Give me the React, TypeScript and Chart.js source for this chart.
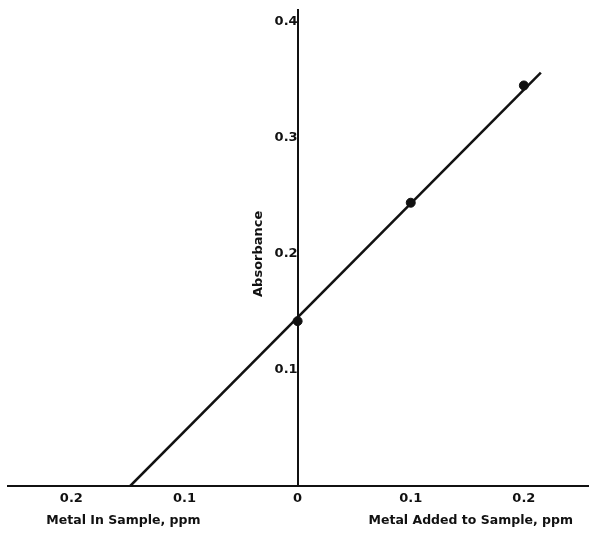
import React, { useEffect, useRef } from "react";
import { Chart, registerables } from "chart.js";

Chart.register(...registerables);

// Standard addition data (ppm metal added vs absorbance)
const addedConc = [0, 0.1, 0.2];
const absorbance = [0.142, 0.244, 0.345];
// Extrapolated fitted line end points
const fitX = [-0.148, 0.215];
const fitY = [0, 0.356];
const yTicks = [0.1, 0.2, 0.3, 0.4];
const xTicks = [-0.2, -0.1, 0, 0.1, 0.2];
const leftTitle = "Metal In Sample, ppm";
const rightTitle = "Metal Added to Sample, ppm";
const yTitle = "Absorbance";

const FONT = "'DejaVu Sans', sans-serif";

const titlesPlugin = {
  id: "axisTitles",
  afterDraw(chart: any) {
    const ctx = chart.ctx;
    const xs = chart.scales.x;
    const ys = chart.scales.y;
    ctx.save();
    ctx.fillStyle = "#111";
    ctx.font = `bold 12.5px ${FONT}`;
    ctx.textAlign = "center";
    ctx.textBaseline = "middle";
    ctx.fillText(leftTitle, xs.getPixelForValue(-0.154), 521);
    ctx.fillText(rightTitle, xs.getPixelForValue(0.153), 521);
    ctx.font = `bold 13px ${FONT}`;
    ctx.translate(xs.getPixelForValue(0) - 39, ys.getPixelForValue(0.2));
    ctx.rotate(-Math.PI / 2);
    ctx.fillText(yTitle, 0, 0);
    ctx.restore();
  },
};

export default function App() {
  const ref = useRef<HTMLCanvasElement | null>(null);
  useEffect(() => {
    if (!ref.current) return;
    const chart = new Chart(ref.current, {
      type: "scatter",
      data: {
        datasets: [
          {
            label: "fit",
            data: fitX.map((x, i) => ({ x, y: fitY[i] })),
            showLine: true,
            borderColor: "#111",
            borderWidth: 2.5,
            pointRadius: 0,
          },
          {
            label: "standards",
            data: addedConc.map((x, i) => ({ x, y: absorbance[i] })),
            backgroundColor: "#111",
            borderColor: "#111",
            pointRadius: 4.5,
          },
        ],
      },
      options: {
        animation: false,
        responsive: false,
        layout: { padding: { left: 8, right: 0, top: 10, bottom: 47 } },
        plugins: { legend: { display: false }, tooltip: { enabled: false } },
        scales: {
          x: {
            type: "linear",
            position: { y: 0 } as any,
            min: -0.256,
            max: 0.258,
            afterBuildTicks: (axis: any) => {
              axis.ticks = xTicks.map((v) => ({ value: v }));
            },
            ticks: {
              color: "#111",
              font: { family: FONT, size: 13, weight: "bold" },
              padding: 5,
              maxRotation: 0,
              callback: (v: any) => (Number(v) === 0 ? "0" : Math.abs(Number(v)).toFixed(1)),
            },
            grid: { display: true, drawOnChartArea: false, drawTicks: false, color: "rgba(0,0,0,0)" },
            border: { display: true, color: "#111", width: 2 },
          },
          y: {
            type: "linear",
            position: { x: 0 } as any,
            min: 0,
            max: 0.41,
            afterBuildTicks: (axis: any) => {
              axis.ticks = yTicks.map((v) => ({ value: v }));
            },
            ticks: {
              color: "#111",
              font: { family: FONT, size: 13, weight: "bold" },
              padding: 1,
              callback: (v: any) => Number(v).toFixed(1),
            },
            grid: { display: true, drawOnChartArea: false, drawTicks: false, color: "rgba(0,0,0,0)" },
            border: { display: true, color: "#111", width: 2 },
          },
        },
      },
      plugins: [titlesPlugin],
    });
    return () => chart.destroy();
  }, []);
  return (
    <div style={{ position: "fixed", left: 0, top: 0, width: 589, height: 533, overflow: "hidden", background: "#fff" }}>
      <canvas ref={ref} width={595} height={533} style={{ display: "block" }} />
    </div>
  );
}
